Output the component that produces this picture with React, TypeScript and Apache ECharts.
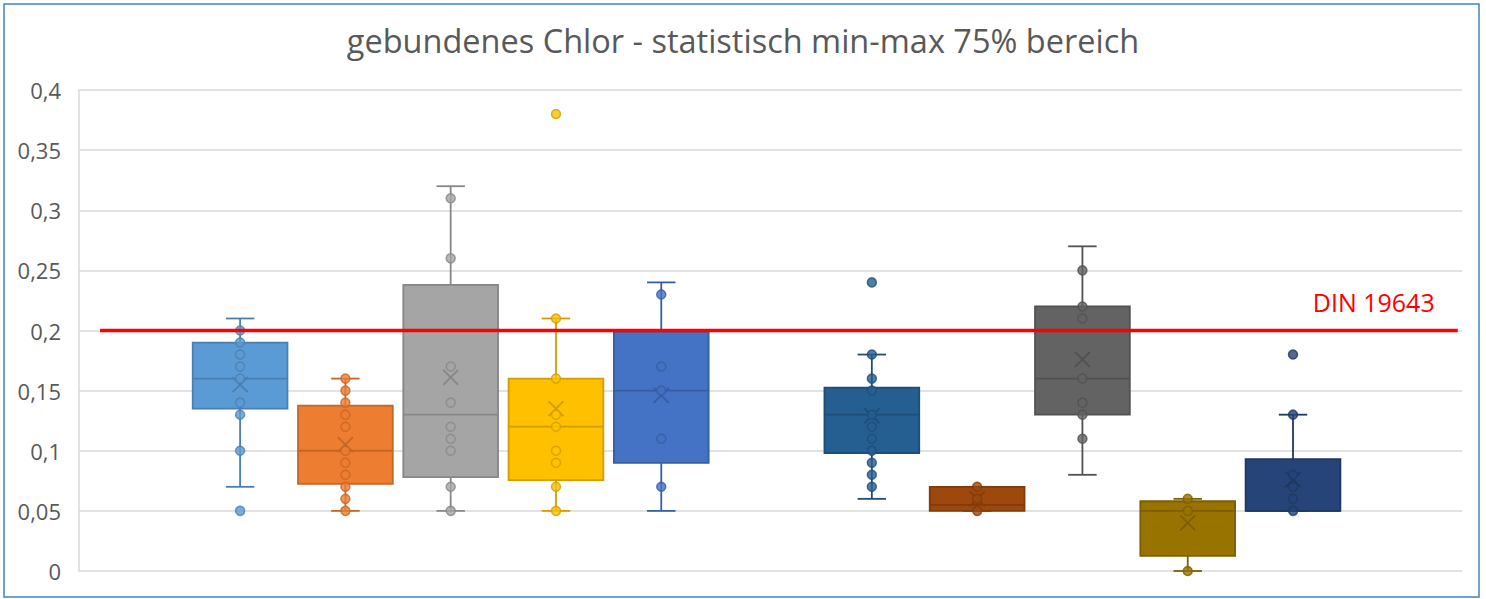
import React, { useEffect, useRef } from "react";
import * as echarts from "echarts";

const titleText = "gebundenes Chlor - statistisch min-max 75% bereich";
const positions = [0, 1, 2, 3, 4, 6, 7, 8, 9, 10];
const colors = ["#5B9BD5", "#ED7D31", "#A5A5A5", "#FFC000", "#4472C4", "#255E91", "#9E480E", "#636363", "#997300", "#264478"];
const whiskerLow = [0.07, 0.05, 0.05, 0.05, 0.05, 0.06, 0.05, 0.08, 0.0, 0.05];
const q1 = [0.135, 0.0725, 0.078, 0.0755, 0.09, 0.098, 0.05, 0.13, 0.0125, 0.05];
const median = [0.16, 0.1, 0.13, 0.12, 0.15, 0.13, 0.055, 0.16, 0.05, 0.05];
const q3 = [0.19, 0.1375, 0.238, 0.16, 0.199, 0.1525, 0.07, 0.22, 0.058, 0.093];
const whiskerHigh = [0.21, 0.16, 0.32, 0.21, 0.24, 0.18, 0.07, 0.27, 0.06, 0.13];
const means = [0.155, 0.105, 0.161, 0.135, 0.146, 0.129, 0.06, 0.176, 0.04, 0.076];
const points: number[][] = [
  [0.2, 0.19, 0.18, 0.17, 0.16, 0.14, 0.13, 0.1, 0.05],
  [0.16, 0.15, 0.14, 0.13, 0.12, 0.1, 0.09, 0.08, 0.07, 0.06, 0.05],
  [0.31, 0.26, 0.17, 0.14, 0.12, 0.11, 0.1, 0.07, 0.05],
  [0.38, 0.21, 0.16, 0.13, 0.12, 0.1, 0.09, 0.07, 0.05],
  [0.23, 0.17, 0.15, 0.11, 0.07],
  [0.24, 0.18, 0.16, 0.15, 0.13, 0.12, 0.11, 0.1, 0.09, 0.08, 0.07],
  [0.07, 0.06, 0.05],
  [0.25, 0.22, 0.21, 0.16, 0.14, 0.13, 0.11],
  [0.06, 0.05, 0.0],
  [0.18, 0.13, 0.08, 0.07, 0.06, 0.05],
];
const dinValue = 0.2;
const dinLabel = "DIN 19643";
const dinRange = [-1.33, 11.565];
const yTicks = { min: 0, max: 0.4, interval: 0.05 };
const xRange = { min: -1.53, max: 11.605 };

function darken(hex: string, f: number) {
  const n = parseInt(hex.slice(1), 16);
  const r = Math.round(((n >> 16) & 255) * f);
  const g = Math.round(((n >> 8) & 255) * f);
  const b = Math.round((n & 255) * f);
  return `rgb(${r},${g},${b})`;
}

export default function App() {
  const ref = useRef<HTMLDivElement>(null);
  useEffect(() => {
    if (!ref.current) return;
    const chart = echarts.init(ref.current, undefined, { renderer: "svg" });
    const boxData = positions.map((p, i) => [p, whiskerLow[i], q1[i], median[i], q3[i], whiskerHigh[i], means[i], i]);
    const scatterData: any[] = [];
    points.forEach((arr, i) =>
      arr.forEach((v) =>
        scatterData.push({
          value: [positions[i], v],
          itemStyle: { color: colors[i], borderColor: darken(colors[i], 0.82), borderWidth: 1.5 },
        })
      )
    );
    const option: any = {
      animation: false,
      title: {
        text: titleText,
        left: "center",
        top: 19,
        textStyle: { fontFamily: "Open Sans", fontSize: 32.5, fontWeight: "normal", color: "#595959" },
      },
      grid: { left: 79, right: 24, top: 90, bottom: 28, containLabel: false },
      xAxis: {
        type: "value",
        min: xRange.min,
        max: xRange.max,
        axisLine: { show: false },
        axisTick: { show: false },
        axisLabel: { show: false },
        splitLine: { show: false },
      },
      yAxis: {
        type: "value",
        min: yTicks.min,
        max: yTicks.max,
        interval: yTicks.interval,
        axisLine: { show: true, onZero: false, lineStyle: { color: "#D9D9D9", width: 1.5 } },
        axisTick: { show: false },
        axisLabel: {
          margin: 18,
          color: "#595959",
          fontFamily: "Open Sans",
          fontSize: 22,
          formatter: (v: number) => String(parseFloat(v.toFixed(2))).replace(".", ","),
        },
        splitLine: { lineStyle: { color: "#D9D9D9", width: 1.5 } },
      },
      graphic: [
        {
          type: "rect",
          shape: { x: 4, y: 4, width: 1475, height: 593 },
          style: { fill: "none", stroke: "#3D85C6", lineWidth: 1.5 },
          silent: true,
        },
      ],
      series: [
        {
          type: "custom",
          data: boxData,
          encode: { x: 0, y: [1, 5] },
          z: 2,
          renderItem: (params: any, api: any) => {
            const x = api.value(0);
            const idx = api.value(7);
            const c = colors[idx];
            const dk = darken(c, 0.82);
            const half = api.size([0.9, 0])[0] / 2;
            const capHalf = api.size([0.27, 0])[0] / 2;
            const pLow = api.coord([x, api.value(1)]);
            const pQ1 = api.coord([x, api.value(2)]);
            const pMed = api.coord([x, api.value(3)]);
            const pQ3 = api.coord([x, api.value(4)]);
            const pHigh = api.coord([x, api.value(5)]);
            const pMean = api.coord([x, api.value(6)]);
            const cx = pQ1[0];
            const ls = { stroke: dk, lineWidth: 1.8 };
            const m = 7.5;
            return {
              type: "group",
              children: [
                { type: "line", shape: { x1: cx, y1: pLow[1], x2: cx, y2: pQ1[1] }, style: ls },
                { type: "line", shape: { x1: cx, y1: pQ3[1], x2: cx, y2: pHigh[1] }, style: ls },
                { type: "line", shape: { x1: cx - capHalf, y1: pLow[1], x2: cx + capHalf, y2: pLow[1] }, style: ls },
                { type: "line", shape: { x1: cx - capHalf, y1: pHigh[1], x2: cx + capHalf, y2: pHigh[1] }, style: ls },
                {
                  type: "rect",
                  shape: { x: cx - half, y: pQ3[1], width: half * 2, height: pQ1[1] - pQ3[1] },
                  style: { fill: c, stroke: dk, lineWidth: 1.8 },
                },
                { type: "line", shape: { x1: cx - half, y1: pMed[1], x2: cx + half, y2: pMed[1] }, style: ls },
                { type: "line", shape: { x1: cx - m, y1: pMean[1] - m, x2: cx + m, y2: pMean[1] + m }, style: ls },
                { type: "line", shape: { x1: cx - m, y1: pMean[1] + m, x2: cx + m, y2: pMean[1] - m }, style: ls },
              ],
            };
          },
        },
        {
          type: "scatter",
          data: scatterData,
          symbol: "circle",
          symbolSize: 9,
          z: 3,
        },
        {
          type: "line",
          name: dinLabel,
          data: [
            [dinRange[0], dinValue],
            [dinRange[1], dinValue],
          ],
          symbol: "none",
          lineStyle: { color: "#FF0000", width: 3.5 },
          endLabel: {
            show: true,
            formatter: dinLabel,
            offset: [-153, -29],
            color: "#FF0000",
            fontFamily: "Open Sans",
            fontSize: 25,
          },
          z: 4,
        },
      ],
    };
    chart.setOption(option);
    return () => chart.dispose();
  }, []);
  return (
    <div
      ref={ref}
      style={{ position: "absolute", left: 0, top: 0, width: 1486, height: 599, background: "#fff" }}
    />
  );
}
